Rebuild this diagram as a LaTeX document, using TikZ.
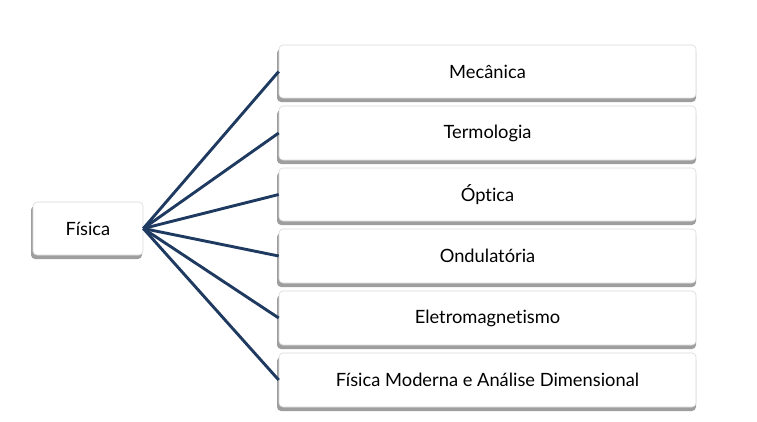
\documentclass[tikz,border=0pt]{standalone}
\usepackage{fontspec}
\setmainfont{Lato}[Ligatures={NoCommon}]
\begin{document}
\begin{tikzpicture}[x=1pt,y=-1pt,
  box/.style={draw=black!15, line width=0.6pt, fill=white, rounded corners=4pt, inner sep=0pt, font=\fontsize{18.3}{21}\selectfont, text=black},
  shadowbox/.style={fill=black!38, rounded corners=4pt, draw=none},
  conn/.style={draw=navy, line width=2.9pt}]
\definecolor{navy}{HTML}{1F3A60}
\useasboundingbox (0,0) rectangle (757,421);
% shadows
\foreach \t/\b in {45/98,106/160,168/221,229/283,291/345,353/407}{
  \fill[shadowbox] (277,\t+4) rectangle (696,\b+4);
}
\fill[shadowbox] (31,206) rectangle (142,259);
% center node
\node[box, minimum width=110pt, minimum height=53pt] (f) at (88,228.5) {Física};
% branch nodes
\node[box, minimum width=417pt, minimum height=53pt] (m) at (487.5,71.5) {Mecânica};
\node[box, minimum width=417pt, minimum height=54pt] (t) at (487.5,133) {Termologia};
\node[box, minimum width=417pt, minimum height=53pt] (o) at (487.5,194.5) {Óptica};
\node[box, minimum width=417pt, minimum height=54pt] (u) at (487.5,256) {Ondulatória};
\node[box, minimum width=417pt, minimum height=54pt] (e) at (487.5,318) {Eletromagnetismo};
\node[box, minimum width=417pt, minimum height=54pt] (d) at (487.5,380) {Física Moderna e Análise Dimensional};
% connectors
\foreach \n in {m,t,o,u,e,d}{
  \draw[conn] (f.east) -- (\n.west);
}
\end{tikzpicture}
\end{document}
